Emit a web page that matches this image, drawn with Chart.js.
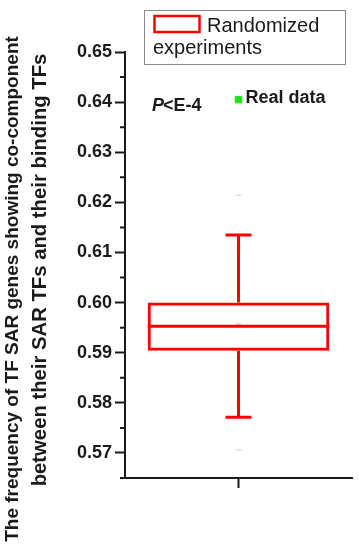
<!DOCTYPE html>
<html lang="en">
<head>
    <title>Randomized experiments vs real data</title>
    <script src="https://cdn.jsdelivr.net/npm/chart.js"></script>
    <style>
        html, body { margin: 0; padding: 0; background: #fff; }
        #boxChart { display: block; }
    </style>
</head>
<body>

<canvas id="boxChart" width="359" height="550"></canvas>

<script>
    // data
    const categories = ['Randomized experiments'];
    const boxQ1 = [0.5904];
    const boxQ3 = [0.6000];
    const medians = [0.5953];
    const means = [0.5955];
    const whiskerLow = [0.5771];
    const whiskerHigh = [0.6135];
    const pct1 = [0.5796];
    const pct99 = [0.6108];
    const minVals = [0.5706];
    const maxVals = [0.6214];
    const realData = [0.6405];

    const yMin = 0.565, yMax = 0.65, yStep = 0.005;
    const titleLines = [
        'The frequency of TF SAR genes showing co-component',
        'between their SAR TFs and their binding TFs'
    ];
    const pValueText = '<E-4';
    const realLabel = 'Real data';

    const FONT = "'Liberation Sans', Arial, sans-serif";
    const INK = '#1a1a1a';
    const RED = '#ff0000';
    const FAINT = 'rgba(255, 0, 0, 0.18)';

    const isMajor = v => Math.abs(Math.round(v * 100) - v * 100) < 1e-6;

    // whiskers, caps, median, minor ticks, axis title, legend and notes
    const boxExtras = {
        id: 'boxExtras',
        afterDatasetsDraw(chart) {
            const ctx = chart.ctx;
            const y = chart.scales.y;
            const bars = chart.getDatasetMeta(0).data;
            ctx.save();
            ctx.strokeStyle = RED;
            ctx.lineWidth = 3;
            bars.forEach((bar, i) => {
                const half = bar.width / 2;
                const capHalf = 13;
                const yMed = y.getPixelForValue(medians[i]);
                const yHi = y.getPixelForValue(whiskerHigh[i]);
                const yLo = y.getPixelForValue(whiskerLow[i]);
                const yQ3 = y.getPixelForValue(boxQ3[i]);
                const yQ1 = y.getPixelForValue(boxQ1[i]);
                ctx.beginPath();
                ctx.moveTo(bar.x - half, yMed); ctx.lineTo(bar.x + half, yMed);
                ctx.moveTo(bar.x, yQ3); ctx.lineTo(bar.x, yHi);
                ctx.moveTo(bar.x, yQ1); ctx.lineTo(bar.x, yLo);
                ctx.moveTo(bar.x - capHalf, yHi); ctx.lineTo(bar.x + capHalf, yHi);
                ctx.moveTo(bar.x - capHalf, yLo); ctx.lineTo(bar.x + capHalf, yLo);
                ctx.stroke();
            });
            ctx.restore();
        },
        afterDraw(chart) {
            const ctx = chart.ctx;
            const y = chart.scales.y;
            const area = chart.chartArea;
            ctx.save();

            // short minor ticks
            ctx.strokeStyle = INK;
            ctx.lineWidth = 2;
            ctx.beginPath();
            y.ticks.forEach(t => {
                if (!isMajor(t.value)) {
                    const py = y.getPixelForValue(t.value);
                    ctx.moveTo(area.left - 5, py);
                    ctx.lineTo(area.left, py);
                }
            });
            ctx.stroke();

            // y axis title, two rotated lines
            ctx.fillStyle = INK;
            ctx.textAlign = 'center';
            ctx.textBaseline = 'alphabetic';
            [[18, 289, 19], [46, 270, 20.3]].forEach(([bx, cy, size], i) => {
                ctx.save();
                ctx.font = 'bold ' + size + 'px ' + FONT;
                ctx.translate(bx, cy);
                ctx.rotate(-Math.PI / 2);
                ctx.fillText(titleLines[i], 0, 0);
                ctx.restore();
            });

            // legend
            ctx.textAlign = 'left';
            ctx.strokeStyle = '#8a8a8a';
            ctx.lineWidth = 1;
            ctx.strokeRect(144.5, 10.5, 201, 54);
            ctx.strokeStyle = RED;
            ctx.lineWidth = 2.5;
            ctx.strokeRect(154.5, 16, 45, 16);
            ctx.font = '20px ' + FONT;
            ctx.fillStyle = INK;
            ctx.fillText('Randomized', 207, 32);
            ctx.fillText('experiments', 153, 54);

            // p-value note
            ctx.font = 'italic bold 18px ' + FONT;
            ctx.fillText('P', 152, 111);
            const pw = ctx.measureText('P').width;
            ctx.font = 'bold 18px ' + FONT;
            ctx.fillText(pValueText, 152 + pw - 1, 111);

            // real data label, next to its point
            const pt = chart.getDatasetMeta(1).data[0];
            ctx.fillText(realLabel, pt.x + 7, pt.y + 3);

            ctx.restore();
        }
    };

    const ctx = document.getElementById('boxChart').getContext('2d');

    new Chart(ctx, {
        type: 'bar',
        data: {
            labels: categories,
            datasets: [
                {
                    label: 'Randomized experiments',
                    data: boxQ1.map((q, i) => [q, boxQ3[i]]),
                    backgroundColor: 'rgba(0,0,0,0)',
                    borderColor: RED,
                    borderWidth: 3,
                    borderSkipped: false,
                    categoryPercentage: 1,
                    barPercentage: 0.8
                },
                {
                    type: 'line',
                    label: realLabel,
                    data: realData,
                    showLine: false,
                    pointStyle: 'rect',
                    pointRadius: 4.6,
                    pointBackgroundColor: '#1fe01f',
                    pointBorderColor: '#1fe01f',
                    pointBorderWidth: 1
                },
                {
                    type: 'line',
                    label: 'percentiles',
                    data: pct1.concat(pct99).map(v => ({ x: categories[0], y: v })),
                    showLine: false,
                    pointStyle: 'crossRot',
                    pointRadius: 3,
                    pointBorderColor: FAINT,
                    pointBorderWidth: 1.5
                },
                {
                    type: 'line',
                    label: 'min/max',
                    data: minVals.concat(maxVals).map(v => ({ x: categories[0], y: v })),
                    showLine: false,
                    pointStyle: 'line',
                    pointRadius: 3,
                    pointBorderColor: FAINT,
                    pointBorderWidth: 1.5
                },
                {
                    type: 'line',
                    label: 'mean',
                    data: means,
                    showLine: false,
                    pointStyle: 'rect',
                    pointRadius: 3,
                    pointBackgroundColor: FAINT,
                    pointBorderColor: FAINT,
                    pointBorderWidth: 0
                }
            ]
        },
        options: {
            responsive: false,
            animation: false,
            layout: { padding: { top: 52, right: 7, left: 0, bottom: 0 } },
            plugins: {
                legend: { display: false },
                tooltip: { enabled: false }
            },
            scales: {
                x: {
                    type: 'category',
                    offset: true,
                    ticks: { display: false },
                    grid: {
                        display: true,
                        drawOnChartArea: false,
                        offset: false,
                        tickLength: 10,
                        tickWidth: 2,
                        tickColor: INK
                    },
                    border: { display: true, color: INK, width: 2 },
                    afterFit: s => { s.height = 72; }
                },
                y: {
                    min: yMin,
                    max: yMax,
                    ticks: {
                        stepSize: yStep,
                        autoSkip: false,
                        padding: 3,
                        color: INK,
                        font: { family: FONT, size: 18, weight: 'bold' },
                        callback: v => isMajor(v) && v > yMin + 1e-9 ? v.toFixed(2) : ''
                    },
                    grid: {
                        display: true,
                        drawOnChartArea: false,
                        tickLength: 10,
                        tickWidth: 2,
                        tickColor: c => isMajor(c.tick.value) ? INK : 'rgba(0,0,0,0)'
                    },
                    border: { display: true, color: INK, width: 2 },
                    afterFit: s => { s.width = 125; }
                }
            }
        },
        plugins: [boxExtras]
    });
</script>

</body>
</html>
